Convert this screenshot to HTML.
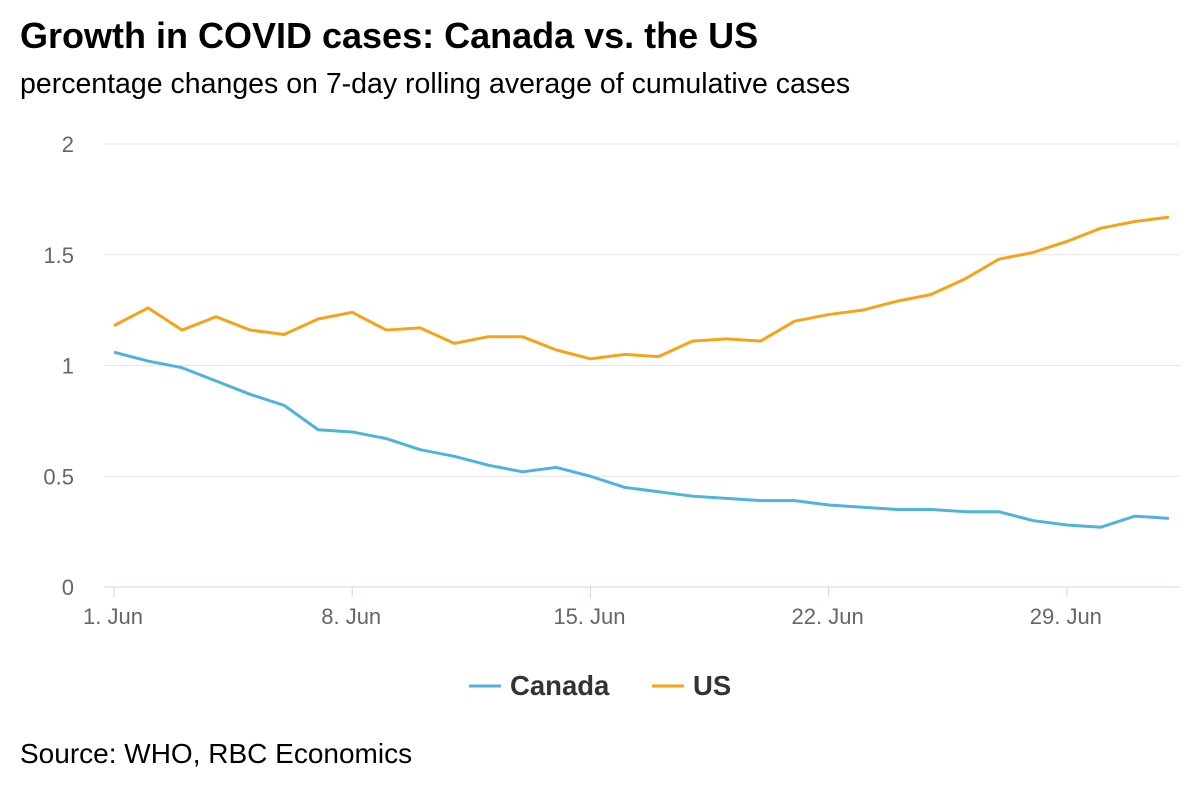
<!DOCTYPE html>
<html><head><meta charset="utf-8">
<style>
body{margin:0;width:1200px;height:800px;background:#fff;font-family:"Liberation Sans",sans-serif;overflow:hidden}
#title{position:absolute;left:20px;top:15px;font-size:36px;font-weight:bold;color:#000}
#subtitle{position:absolute;left:20px;top:68px;font-size:28.5px;color:#000}
#source{position:absolute;left:20px;top:738px;font-size:28px;color:#000}
svg{position:absolute;left:0;top:0}
</style></head><body>
<div id="title">Growth in COVID cases: Canada vs. the US</div>
<div id="subtitle">percentage changes on 7-day rolling average of cumulative cases</div>
<div id="source">Source: WHO, RBC Economics</div>
<svg id="chart" width="1200" height="800"></svg>
<script>
const days = Array.from({length:32},(_,i)=>i);
const xTickDays = [0,7,14,21,28];
const xTickLabels = ["1. Jun","8. Jun","15. Jun","22. Jun","29. Jun"];
const yTicks = [0,0.5,1,1.5,2];
const yTickLabels = ["0","0.5","1","1.5","2"];
const usValues = [1.18,1.26,1.16,1.22,1.16,1.14,1.21,1.24,1.16,1.17,1.10,1.13,1.13,1.07,1.03,1.05,1.04,1.11,1.12,1.11,1.20,1.23,1.25,1.29,1.32,1.39,1.48,1.51,1.56,1.62,1.65,1.67];
const canadaValues = [1.06,1.02,0.99,0.93,0.87,0.82,0.71,0.70,0.67,0.62,0.59,0.55,0.52,0.54,0.50,0.45,0.43,0.41,0.40,0.39,0.39,0.37,0.36,0.35,0.35,0.34,0.34,0.30,0.28,0.27,0.32,0.31];

const NS="http://www.w3.org/2000/svg";
const svg=document.getElementById('chart');
const x=d=>114+d*34.03;
const y=v=>587-v*221.5;
function mk(tag,attrs,parent){const e=document.createElementNS(NS,tag);for(const k in attrs)e.setAttribute(k,attrs[k]);(parent||svg).appendChild(e);return e;}

yTicks.forEach((t,i)=>{
  const g=mk('line',{x1:104,x2:1180,y1:y(t),y2:y(t),stroke:t===0?'#ccd6eb':'#e6e6e6','stroke-width':1});
  
  
  const tx=mk('text',{x:74,y:y(t)+8,'text-anchor':'end','font-size':22,fill:'#666'});
  tx.textContent=yTickLabels[i];
  
  
});
xTickDays.forEach((d,i)=>{
  const tk=mk('line',{x1:x(d),x2:x(d),y1:587,y2:597,stroke:'#ccd6eb'});
  
  
  const tx=mk('text',{x:x(d)-1,y:624,'text-anchor':'middle','font-size':22,fill:'#666'});
  tx.textContent=xTickLabels[i];
  
  
});
function series(vals,color,name){
  const p=mk('polyline',{points:vals.map((v,i)=>x(days[i])+','+y(v)).join(' '),fill:'none',stroke:color,'stroke-width':3,'stroke-linejoin':'round'});
  
  
}
series(canadaValues,'#4fb3de','canada-line');
series(usValues,'#f5a31a','us-line');

function legend(lx,color,label,name){
  const g=mk('g',{});
  
  
  mk('line',{x1:lx,x2:lx+32,y1:686,y2:686,stroke:color,'stroke-width':3},g);
  const t=mk('text',{x:lx+41,y:695,'font-size':27.5,'font-weight':'bold',fill:'#333'},g);
  t.textContent=label;
}
legend(469,'#4fb3de','Canada','legend-canada');
legend(652,'#f5a31a','US','legend-us');
</script>
</body></html>
